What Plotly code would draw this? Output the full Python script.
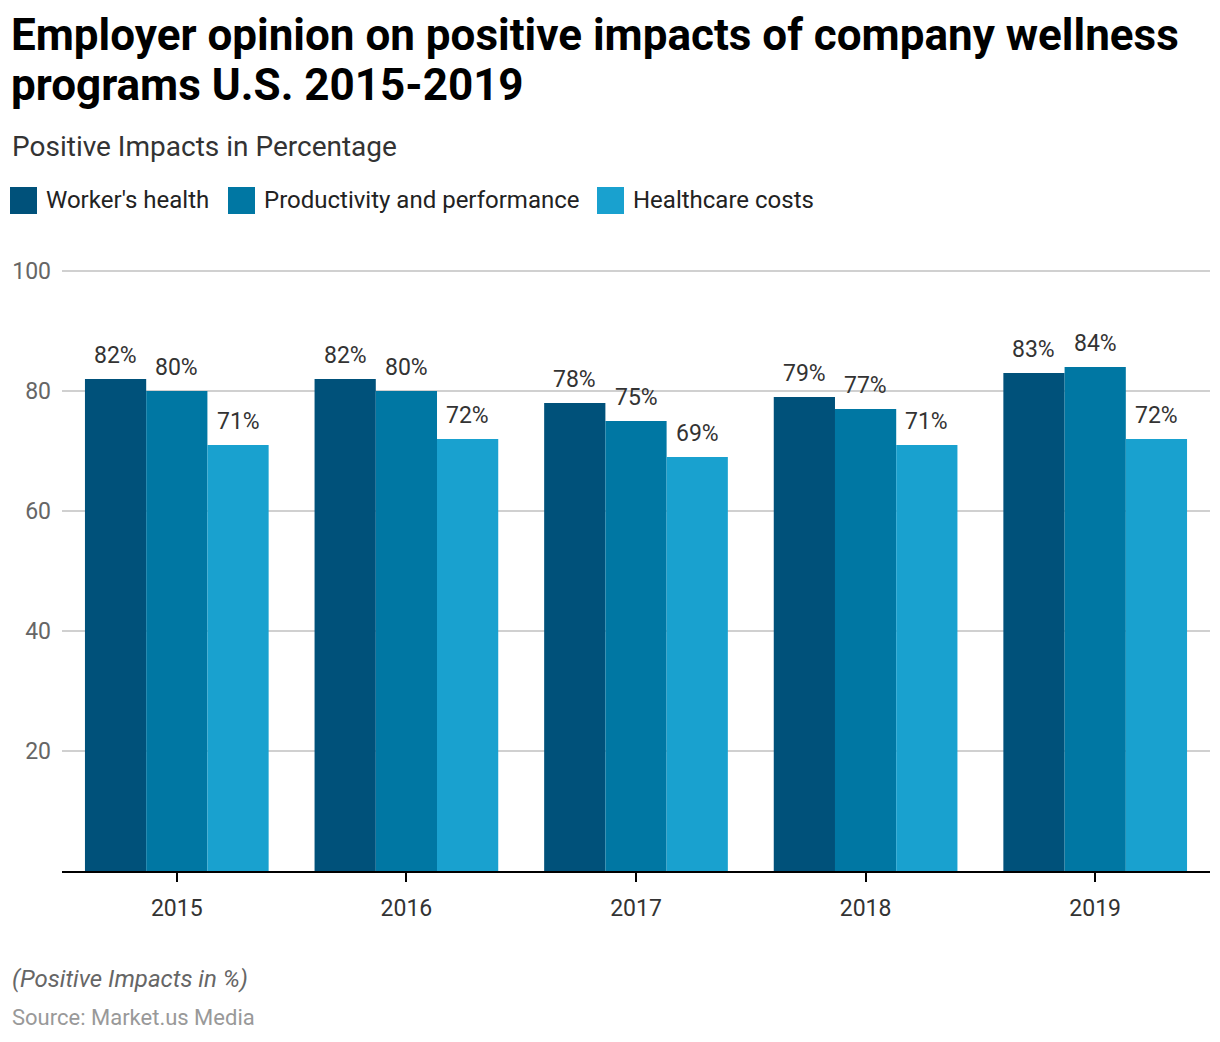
import plotly.graph_objects as go

years = ["2015", "2016", "2017", "2018", "2019"]
workers_health = [82, 82, 78, 79, 83]
productivity = [80, 80, 75, 77, 84]
healthcare_costs = [71, 72, 69, 71, 72]
series_names = ["Worker's health", "Productivity and performance", "Healthcare costs"]
colors = ["#00517A", "#0077A3", "#19A1CF"]
all_series = [workers_health, productivity, healthcare_costs]

OFF = 8  # page body margin
W, H = 1204, 1026
YMAX = 100.5
plot_left, plot_right = 62, 1210
plot_bottom = 871
plot_top = plot_bottom - 600 * YMAX / 100
L = plot_left - OFF
R = W - (plot_right - OFF)
T = plot_top - OFF
B = H - (plot_bottom - OFF)
PW = W - L - R
PH = H - T - B

def px(x):
    return (x - OFF - L) / PW

def py(y):
    return (H - B - (y - OFF)) / PH

bar_w = PW / len(years) * 0.8 / 3

fig = go.Figure()
ann = []
for i, (name, vals, c) in enumerate(zip(series_names, all_series, colors)):
    fig.add_trace(go.Bar(
        x=years, y=vals, name=name, marker=dict(color=c, line=dict(width=0)),
        showlegend=False, hoverinfo="x+y",
    ))
    for j, v in enumerate(vals):
        ann.append(dict(text=f"{v}%", x=j, y=v, xref="x", yref="y", xanchor="center",
                        yanchor="bottom", yshift=8, xshift=(i - 1) * bar_w, showarrow=False,
                        font=dict(size=23, color="#333333", family="Roboto")))

ann.append(dict(text="<b>Employer opinion on positive impacts of company wellness</b>",
                x=px(9), y=py(35), xref="paper", yref="paper", xanchor="left", yanchor="middle",
                showarrow=False, font=dict(size=44, color="#000000", family="Roboto")))
ann.append(dict(text="<b>programs U.S. 2015-2019</b>",
                x=px(9), y=py(85), xref="paper", yref="paper", xanchor="left", yanchor="middle",
                showarrow=False, font=dict(size=44, color="#000000", family="Roboto")))
ann.append(dict(text="Positive Impacts in Percentage", x=px(10), y=py(147), xref="paper", yref="paper",
                xanchor="left", yanchor="middle", showarrow=False,
                font=dict(size=28, color="#333333", family="Roboto")))
ann.append(dict(text="<i>(Positive Impacts in %)</i>", x=px(10), y=py(979), xref="paper", yref="paper",
                xanchor="left", yanchor="middle", showarrow=False,
                font=dict(size=24, color="#666666", family="Roboto")))
ann.append(dict(text="Source: Market.us Media", x=px(10), y=py(1017), xref="paper", yref="paper",
                xanchor="left", yanchor="middle", showarrow=False,
                font=dict(size=22, color="#999999", family="Roboto")))

shapes = []
legend_x = [10, 228, 597]
for lx, name, c in zip(legend_x, series_names, colors):
    shapes.append(dict(type="rect", xref="paper", yref="paper", x0=px(lx), x1=px(lx + 27),
                       y0=py(214), y1=py(187), fillcolor=c, line=dict(width=0)))
    ann.append(dict(text=name, x=px(lx + 34), y=py(200), xref="paper", yref="paper",
                    xanchor="left", yanchor="middle", showarrow=False,
                    font=dict(size=24, color="#222222", family="Roboto")))

fig.update_layout(
    width=W, height=H,
    margin=dict(l=L, r=R, t=T, b=B),
    paper_bgcolor="white", plot_bgcolor="white",
    barmode="group", bargap=0.2, bargroupgap=0,
    font=dict(family="Roboto"),
    annotations=ann, shapes=shapes,
    xaxis=dict(type="category", range=[-0.5, len(years) - 0.5], showline=True,
               linecolor="#000000", linewidth=2, ticks="outside",
               ticklen=9, tickcolor="#000000", tickwidth=2, ticklabelstandoff=6,
               tickfont=dict(size=23, color="#333333"), showgrid=False),
    yaxis=dict(range=[0, YMAX], tickvals=[20, 40, 60, 80, 100], showgrid=True,
               gridcolor="#D0D0D0", gridwidth=1.5, zeroline=False, showline=False,
               tickfont=dict(size=23, color="#666666"), ticklabelstandoff=10),
)

fig.write_html("out.html")
